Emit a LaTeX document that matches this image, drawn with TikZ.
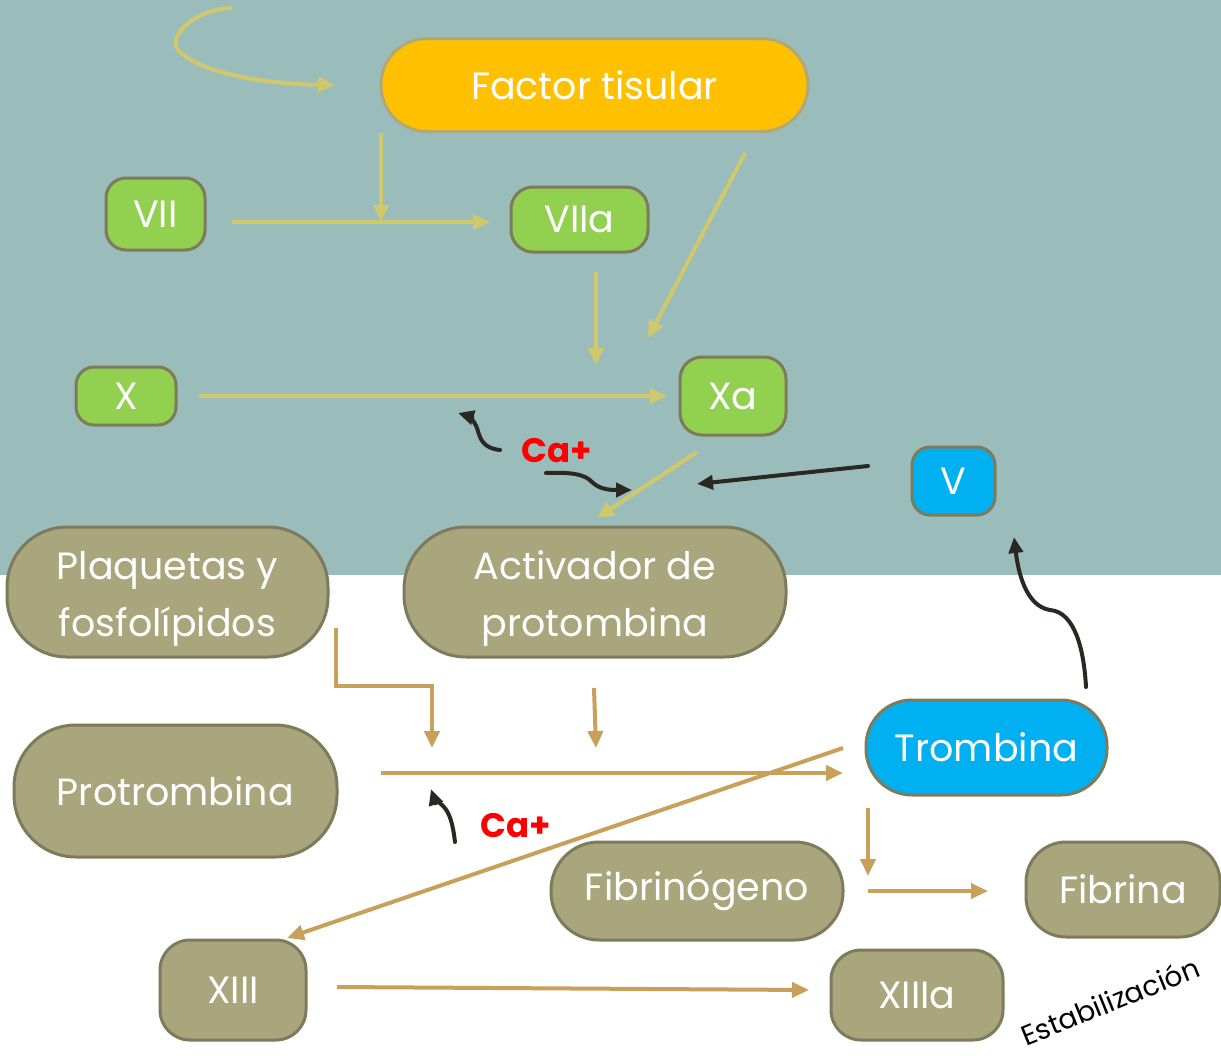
\documentclass[tikz,border=0pt]{standalone}
\usepackage{fontspec}
\setmainfont{Poppins}
\usetikzlibrary{arrows.meta}
\definecolor{bgteal}{HTML}{9ABDBC}
\definecolor{tfyel}{HTML}{FFC000}
\definecolor{grn}{HTML}{92D050}
\definecolor{blu}{HTML}{00B0F0}
\definecolor{olv}{HTML}{A9A57C}
\definecolor{bord}{HTML}{7E7B5C}
\definecolor{bordtf}{HTML}{B0A878}
\definecolor{yarr}{HTML}{CFC96C}
\definecolor{tarr}{HTML}{C9A05A}
\definecolor{darr}{HTML}{2A2820}
\newcommand{\twoline}[2]{\raisebox{-5pt}[\height][\depth]{\begin{tabular}{@{}c@{}}#1\\#2\end{tabular}}}
\tikzset{
  box/.style={draw=bord, line width=3pt, text=white, align=center, inner sep=0pt,
    font=\fontsize{38}{57}\selectfont},
  yl/.style={draw=yarr, line width=4pt, -{Triangle[length=17pt,width=15pt]}},
  tl/.style={draw=tarr, line width=4pt, -{Triangle[length=17pt,width=15pt]}},
  dl/.style={draw=darr, line width=4pt, line cap=round, -{Triangle[length=16pt,width=14pt]}},
  calab/.style={text=red, font=\fontsize{34}{38}\selectfont\bfseries, inner sep=0pt},
}
\begin{document}
\begin{tikzpicture}[x=1pt,y=-1pt]
\useasboundingbox (0,0) rectangle (1221,1055);
\fill[white] (0,0) rectangle (1221,1055);
\fill[bgteal] (0,0) rectangle (1221,575);

% nodes
\node[box, fill=tfyel, draw=bordtf, minimum width=427, minimum height=93, rounded corners=46] (ft) at (594.5,85) {Factor tisular};
\node[box, fill=grn, minimum width=99, minimum height=72, rounded corners=20] (vii) at (155.5,214) {VII};
\node[box, fill=grn, minimum width=137, minimum height=65, rounded corners=22] (viia) at (579.5,219.5) {VIIa};
\node[box, fill=grn, minimum width=100, minimum height=58, rounded corners=18] (x) at (126,396) {X};
\node[box, fill=grn, minimum width=106, minimum height=78, rounded corners=22] (xa) at (733,396) {Xa};
\node[box, fill=blu, minimum width=83, minimum height=68, rounded corners=18] (v) at (953.5,481) {V};
\node[box, fill=olv, minimum width=321, minimum height=130, rounded corners=60] (plaq) at (167.5,592) {\twoline{Plaquetas y}{fosfolípidos}};
\node[box, fill=olv, minimum width=382, minimum height=130, rounded corners=62] (act) at (595,592) {\twoline{Activador de}{protombina}};
\node[box, fill=olv, minimum width=323, minimum height=132, rounded corners=62] (prot) at (175.5,791) {Protrombina};
\node[box, fill=blu, minimum width=241, minimum height=95, rounded corners=46] (trom) at (986.5,747.5) {Trombina};
\node[box, fill=olv, minimum width=292, minimum height=98, rounded corners=48] (fibg) at (697,891) {Fibrinógeno};
\node[box, fill=olv, minimum width=194, minimum height=95, rounded corners=40] (fib) at (1123,889.5) {Fibrina};
\node[box, fill=olv, minimum width=146, minimum height=100, rounded corners=30] (xiii) at (233,990) {XIII};
\node[box, fill=olv, minimum width=172, minimum height=90, rounded corners=30] (xiiia) at (917,995) {XIIIa};

% labels
\node[calab] (ca1) at (557,451) {Ca+};
\node[calab] (ca2) at (516,826) {Ca+};
\node[font=\fontsize{28}{32}\selectfont, rotate=22, inner sep=0pt] (est) at (1110,1001) {Estabilización};

% coordinates
\coordinate (c0) at (232,8);
\coordinate (c1) at (335,85);
\coordinate (j1) at (381,222);
\coordinate (a1) at (232,222);
\coordinate (a2) at (490,222);
\coordinate (b1) at (596,272);
\coordinate (b2) at (596,365);
\coordinate (d1) at (745,153);
\coordinate (d2) at (648,338);
\coordinate (e1) at (199,396);
\coordinate (e2) at (667,396);
\coordinate (f1) at (697,452);
\coordinate (f2) at (597,518);
\coordinate (g1) at (868,466);
\coordinate (g2) at (697,484);
\coordinate (h1) at (500,450);
\coordinate (h2) at (458,413);
\coordinate (k1) at (546,473);
\coordinate (k2) at (632,490);
\coordinate (m1) at (1086,687);
\coordinate (m2) at (1014,537);
\coordinate (n1) at (455,842);
\coordinate (n2) at (431,789);
\coordinate (p1) at (336,628);
\coordinate (p2) at (432,748);
\coordinate (q1) at (594,688);
\coordinate (q2) at (596,748);
\coordinate (r1) at (381,773);
\coordinate (r2) at (843,773);
\coordinate (s1) at (843,748);
\coordinate (s2) at (287,938);
\coordinate (t1) at (868,808);
\coordinate (t2) at (868,876);
\coordinate (u1) at (868,891);
\coordinate (u2) at (988,891);
\coordinate (w1) at (337,987);
\coordinate (w2) at (809,990);

% yellow arrows
\draw[yl] (c0) .. controls (190,10) and (165,40) .. (180,52) .. controls (205,75) and (270,84) .. (c1);
\draw[yl] (ft.south west -| j1) -- (j1);
\draw[yl] (a1) -- (a2);
\draw[yl] (b1) -- (b2);
\draw[yl] (d1) -- (d2);
\draw[yl] (e1) -- (e2);
\draw[yl] (f1) -- (f2);

% dark arrows
\draw[dl] (g1) -- (g2);
\draw[dl] (h1) .. controls (482,448) and (480,438) .. (477,428) .. controls (474,420) and (468,416) .. (h2);
\draw[dl] (k1) .. controls (570,472) and (585,474) .. (592,482) .. controls (600,490) and (612,490) .. (k2);
\draw[dl] (m1) .. controls (1084,650) and (1075,612) .. (1050,610) .. controls (1025,606) and (1018,570) .. (m2);
\draw[dl] (n1) .. controls (453,825) and (450,812) .. (442,805) .. controls (436,800) and (433,795) .. (n2);

% tan arrows
\draw[tl] (p1) -- (336,686) -- (432,686) -- (p2);
\draw[tl] (q1) -- (q2);
\draw[tl] (r1) -- (r2);
\draw[tl] (s1) -- (s2);
\draw[tl] (t1) -- (t2);
\draw[tl] (u1) -- (u2);
\draw[tl] (w1) -- (w2);
\end{tikzpicture}
\end{document}
